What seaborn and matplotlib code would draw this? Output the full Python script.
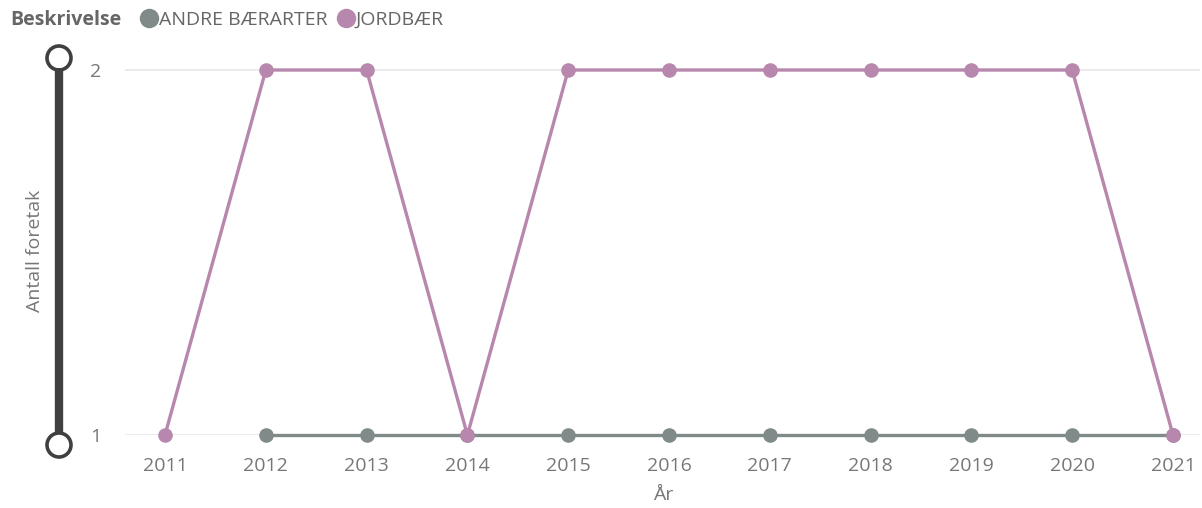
import matplotlib
matplotlib.use("Agg")
import matplotlib.pyplot as plt
import seaborn as sns
import pandas as pd
from matplotlib.lines import Line2D
from matplotlib.patches import Circle

years_andre = [2012, 2013, 2014, 2015, 2016, 2017, 2018, 2019, 2020, 2021]
andre = [1, 1, 1, 1, 1, 1, 1, 1, 1, 1]
years_jord = [2011, 2012, 2013, 2014, 2015, 2016, 2017, 2018, 2019, 2020, 2021]
jordbaer = [1, 2, 2, 1, 2, 2, 2, 2, 2, 2, 1]
series_names = ["ANDRE BÆRARTER", "JORDBÆR"]
colors = ["#7F8A89", "#B887AD"]
x_ticks = list(range(2011, 2022))
y_ticks = [1, 2]

df = pd.concat([
    pd.DataFrame({"År": years_andre, "Antall": andre, "Beskrivelse": series_names[0]}),
    pd.DataFrame({"År": years_jord, "Antall": jordbaer, "Beskrivelse": series_names[1]}),
])

sns.set_theme(style="white")
plt.rcParams["font.family"] = ["Open Sans", "DejaVu Sans"]

W, H = 1202, 508
fig = plt.figure(figsize=(W / 100, H / 100), dpi=100)
ax = fig.add_axes([125 / W, 1 - 435 / H, (1200 - 125) / W, (435 - 40) / H])

sns.lineplot(data=df, x="År", y="Antall", hue="Beskrivelse", palette=colors,
             hue_order=series_names, marker="o", markersize=10.5, markeredgewidth=0,
             linewidth=2.4, ax=ax, legend=False, zorder=3)

ax.set_xlim(2011 - 40 / 100.8, 2021 + 27 / 100.8)
ax.set_ylim(1, 2 + 30 / 365)
ax.set_xticks(x_ticks)
ax.set_yticks(y_ticks)
ax.set_yticklabels([str(v) for v in y_ticks])
ax.yaxis.grid(True, color="#E8E8E8", linewidth=1.2, zorder=0)
ax.set_axisbelow(True)
for s in ax.spines.values():
    s.set_visible(False)
ax.tick_params(axis="both", length=0, labelsize=14, labelcolor="#777777")
ax.tick_params(axis="x", pad=16)
ax.tick_params(axis="y", pad=17)
ax.set_xlabel("År", fontsize=14, color="#777777")
ax.set_ylabel("Antall foretak", fontsize=14, color="#777777")
ax.xaxis.set_label_coords((663 - 125) / (1200 - 125), (435 - 495) / (435 - 40))
ax.xaxis.label.set_va("center")
ax.yaxis.set_label_coords((35 - 125) / (1200 - 125), (435 - 251) / (435 - 40))
ax.yaxis.label.set_va("center")
for t in ax.get_xticklabels() + ax.get_yticklabels():
    t.set_clip_on(False)
for ln in ax.lines:
    ln.set_clip_on(False)

# slider decoration on y axis
xs = 59 / W
fig.add_artist(Line2D([xs, xs], [1 - 68 / H, 1 - 433 / H], color="#404040",
                      linewidth=6, transform=fig.transFigure, solid_capstyle="butt"))
for yy in (58, 445):
    fig.add_artist(Circle((59, H - yy), 12, transform=None, facecolor="white",
                          edgecolor="#404040", linewidth=2.6))

# legend
fig.text(10 / W, 1 - 20 / H, "Beskrivelse", fontsize=14, fontweight="bold",
         color="#666666", va="center", ha="left")
handles = [Line2D([], [], marker="o", linestyle="", markersize=14, color=c,
                  markeredgewidth=0) for c in colors]
fig.legend(handles, series_names, loc="center left", bbox_to_anchor=(130 / W, 1 - 20 / H),
           ncol=2, frameon=False, handletextpad=0.0, columnspacing=0.45,
           prop={"size": 14}, labelcolor="#666666", borderpad=0, handlelength=1.0)

fig.savefig("out.png", dpi=100)
